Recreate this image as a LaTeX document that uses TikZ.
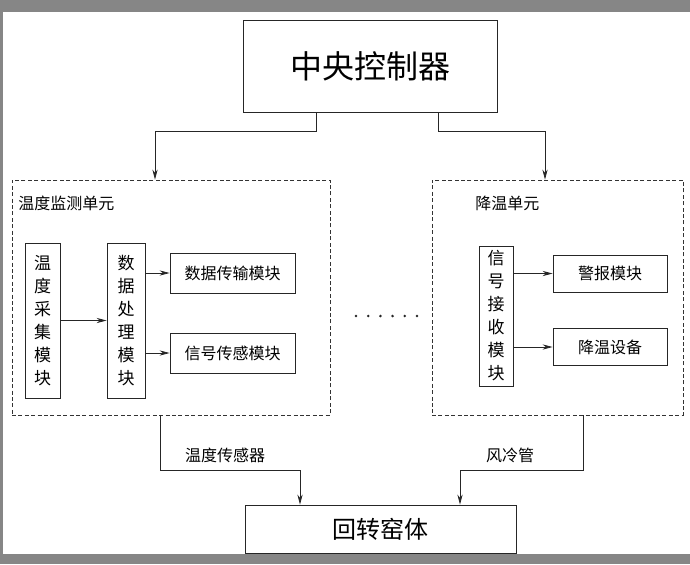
\documentclass[tikz,border=0pt]{standalone}
\usepackage{fontspec}
\setmainfont{Noto Sans CJK SC}
\usetikzlibrary{arrows.meta}
\begin{document}
\begin{tikzpicture}[x=0.5pt,y=-0.5pt]
    \tikzstyle{lien}=[-{Stealth[length=5pt,width=2.6pt]},thin,black!85]
    \tikzstyle{trait}=[thin,black!85]
\tikzset{bloc/.style={draw=black!85,thin,inner sep=0pt,font=\fontsize{8}{10}\selectfont},
colonne/.style={bloc,align=center,font=\fontsize{8.5}{11.5}\selectfont},
unite/.style={draw=black!80,thin,dash pattern=on 2pt off 1.2pt,inner sep=0pt}}
% fond
\fill[gray!95] (0,0) rectangle (690,564);
\fill[white] (3,12) rectangle (690,554);
\useasboundingbox (0,0) rectangle (690,564);

\node[bloc,minimum width=127pt,minimum height=46pt,font=\fontsize{16}{18}\selectfont] (ctrl) at (370,66){中央控制器};
\node[unite,minimum width=159pt,minimum height=117.5pt] (monitor) at (171,297.5){};
\node[unite,minimum width=125.5pt,minimum height=117.5pt] (cool) at (557.5,297.5){};
\node[anchor=west,inner sep=0pt,font=\fontsize{8}{10}\selectfont] (monitorlbl) at (18,203){温度监测单元};
\node[anchor=west,inner sep=0pt,font=\fontsize{8}{10}\selectfont] (coollbl) at (475,203){降温单元};

% unite de surveillance
\node[colonne,minimum width=17.5pt,minimum height=77.5pt] (collect) at (42.5,320.5){温\\度\\采\\集\\模\\块};
\node[colonne,minimum width=19pt,minimum height=77.5pt] (process) at (126,320.5){数\\据\\处\\理\\模\\块};
\node[bloc,minimum width=62.5pt,minimum height=20pt] (transmit) at (232.5,273){数据传输模块};
\node[bloc,minimum width=62.5pt,minimum height=20pt] (sense) at (232.5,353){信号传感模块};

\draw[lien] (collect) -- (process);
\draw[lien] (process.east |- transmit) -- (transmit);
\draw[lien] (process.east |- sense) -- (sense);

% unite de refroidissement
\node[colonne,minimum width=17pt,minimum height=70pt] (receive) at (496,316){信\\号\\接\\收\\模\\块};
\node[bloc,minimum width=57pt,minimum height=18.5pt] (alarm) at (610,273.5){警报模块};
\node[bloc,minimum width=57pt,minimum height=18.5pt] (cooler) at (610,347){降温设备};

\draw[lien] (receive.east |- alarm) -- (alarm);
\draw[lien] (receive.east |- cooler) -- (cooler);

% points
\foreach \i in {0,...,5}
  \fill[black!85] (356+\i*12.2,316) circle (1.4);

\node[bloc,minimum width=135.5pt,minimum height=24pt,font=\fontsize{12}{14}\selectfont] (kiln) at (380.5,529){回转窑体};

% liaisons
\coordinate (g1) at (155,131);
\coordinate (d1) at (545,131);
\draw[lien] (ctrl.south -| 316,0) |- (g1) -- (g1 |- monitor.north);
\draw[lien] (ctrl.south -| 438,0) |- (d1) -- (d1 |- cool.north);

\coordinate (g2) at (300,470);
\coordinate (d2) at (460,470);
\draw[lien] (monitor.south -| 160,0) |- (g2) -- (g2 |- kiln.north);
\draw[lien] (cool.south -| 583,0) |- (d2) -- (d2 |- kiln.north);
\node[font=\fontsize{8}{10}\selectfont,inner sep=0pt] (sensorlbl) at (225,455){温度传感器};
\node[font=\fontsize{8}{10}\selectfont,inner sep=0pt] (pipelbl) at (510,455){风冷管};

  \end{tikzpicture}
\end{document}
